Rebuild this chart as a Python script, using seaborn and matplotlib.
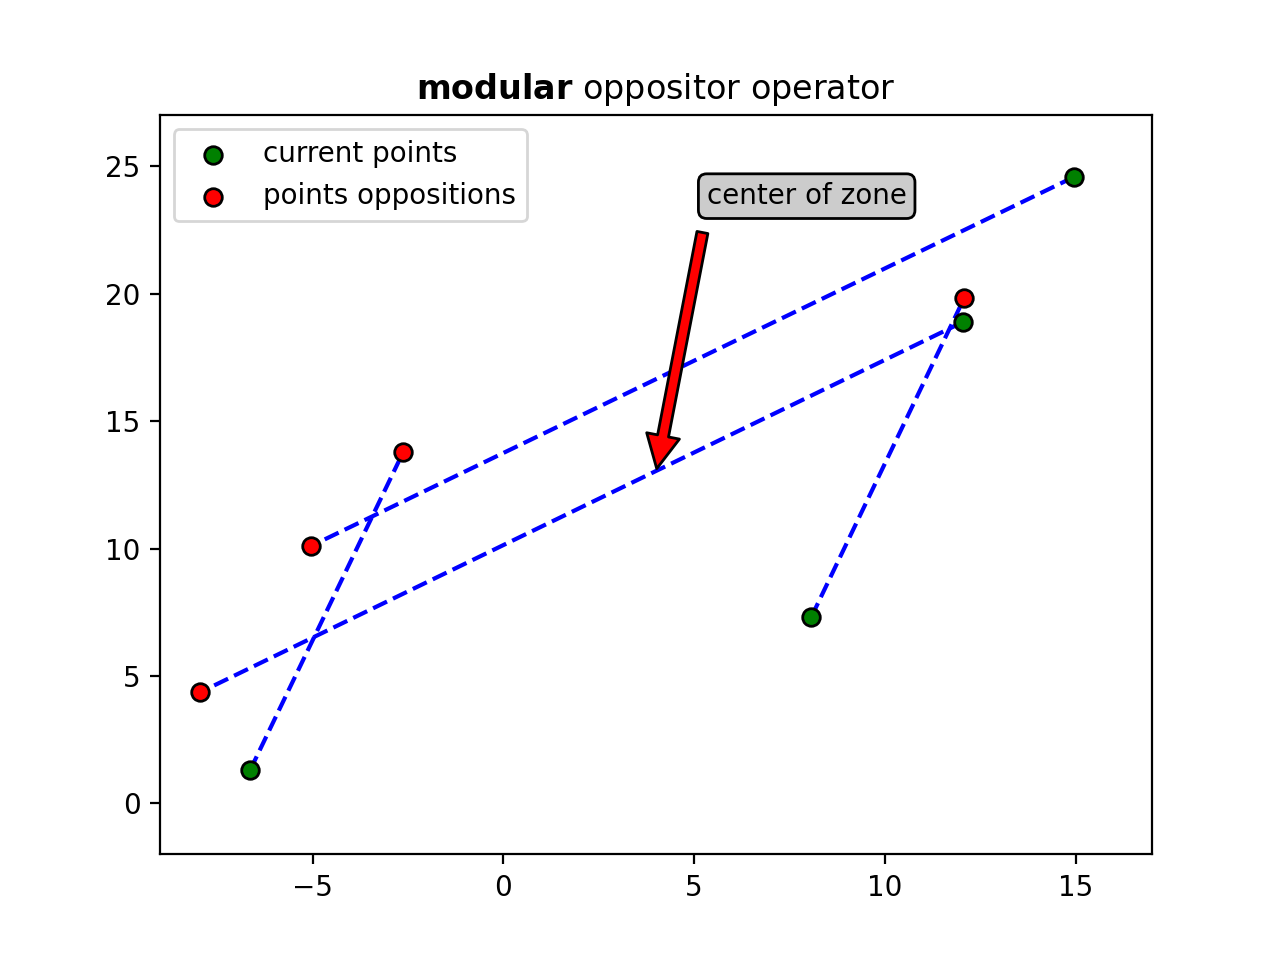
import matplotlib
matplotlib.use("Agg")
import matplotlib.pyplot as plt
import seaborn as sns
import pandas as pd

# ------------ DATA ------------
current_x = [-6.64, 8.07, 12.05, 14.96]
current_y = [1.30, 7.31, 18.89, 24.58]

opposition_x = [-2.62, 12.08, -7.95, -5.04]
opposition_y = [13.80, 19.83, 4.36, 10.10]

center_of_zone = (3.95, 12.6)
label_pos = (5.33, 23.51)

current = pd.DataFrame({"x": current_x, "y": current_y})
opposed = pd.DataFrame({"x": opposition_x, "y": opposition_y})

# ------------ PLOT ------------
fig, ax = plt.subplots(figsize=(6.4, 4.8), dpi=200)

# dashed link between each point and its opposition
for (x0, y0), (x1, y1) in zip(zip(current_x, current_y), zip(opposition_x, opposition_y)):
    ax.plot([x0, x1], [y0, y1], "--", color="blue", zorder=1)

sns.scatterplot(data=current, x="x", y="y", color="green", edgecolor="black",
                s=40, linewidth=1, label="current points", ax=ax, zorder=3)
sns.scatterplot(data=opposed, x="x", y="y", color="red", edgecolor="black",
                s=40, linewidth=1, label="points oppositions", ax=ax, zorder=3)

ax.annotate("center of zone", xy=center_of_zone, xytext=label_pos,
            bbox=dict(boxstyle="round", fc="0.8", ec="black"),
            arrowprops=dict(facecolor="red", shrink=0.05), zorder=4)

ax.set_xlim(-9, 17)
ax.set_ylim(-2, 27)
ax.set_xlabel("")
ax.set_ylabel("")
ax.set_title(r"$\bf{modular}$ oppositor operator")
ax.legend(loc="upper left")

plt.savefig("out.png")
